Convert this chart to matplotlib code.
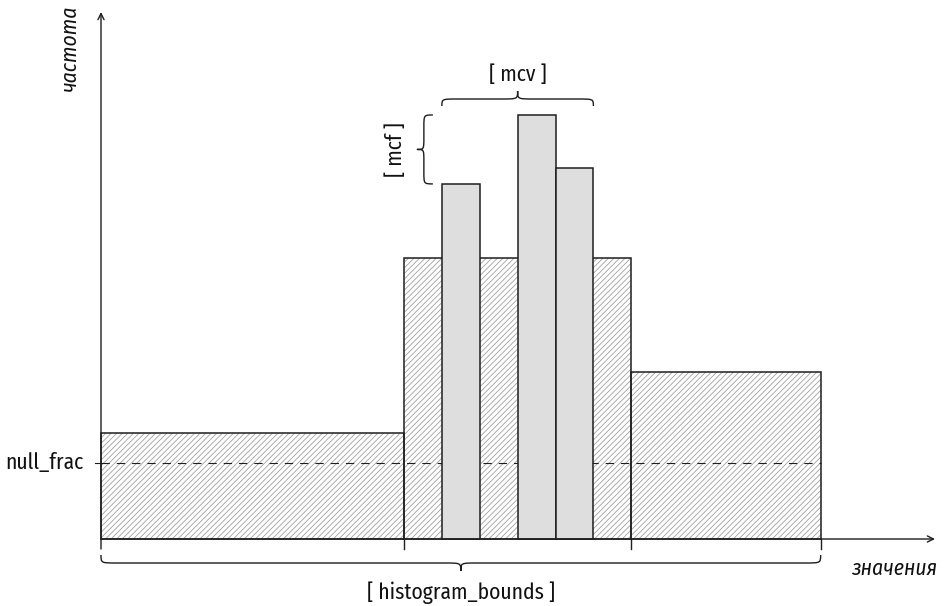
import matplotlib
matplotlib.use("Agg")
import matplotlib.pyplot as plt
from matplotlib.path import Path
from matplotlib.patches import PathPatch
from matplotlib import font_manager

# ---- data ----
bin_edges = [0, 8, 14, 19]            # histogram bounds
bin_heights = [2.0, 5.3, 3.15]        # frequency of each histogram bin
mcv_left = [9, 11, 12]                # most common values (left edge)
mcv_width = 1.0
mcv_freq = [6.7, 8.0, 7.0]            # most common frequencies
null_frac = 1.43

x_label = "значения"
y_label = "частота"
null_label = "null_frac"
hist_label = "[ histogram_bounds ]"
mcv_label = "[ mcv ]"
mcf_label = "[ mcf ]"

# ---- font: prefer a condensed sans ----
names = {f.name for f in font_manager.fontManager.ttflist}
fam = 'DejaVu Sans'
for cand in ["Fira Sans Condensed", "Roboto Condensed", "Open Sans Condensed",
             "Liberation Sans Narrow", "Roboto", "Open Sans"]:
    if cand in names:
        fam = cand
        break
plt.rcParams['font.family'] = [fam, 'DejaVu Sans']
plt.rcParams['hatch.linewidth'] = 0.6
plt.rcParams['lines.scale_dashes'] = False
FS = 15.5

W, H = 949, 606
fig = plt.figure(figsize=(W / 100, H / 100), dpi=100)
ax = fig.add_axes([0, 0, 1, 1])
ax.axis('off')

px_x = 37.875   # pixels per x unit
px_y = 53.0     # pixels per y unit
x0, y0 = 101, 539
ax.set_xlim(-x0 / px_x, (W - x0) / px_x)
ax.set_ylim(-(H - y0) / px_y, y0 / px_y)

def sx(p):  # pixel offset -> x units
    return p / px_x

def sy(p):
    return p / px_y

ink = "#1e1e1e"
txt = "#111111"

# histogram bins
for i, h in enumerate(bin_heights):
    l, r = bin_edges[i], bin_edges[i + 1]
    ax.bar(l, h, width=r - l, align='edge', facecolor='white', edgecolor='#a0a0a0',
           linewidth=0, hatch='//////', zorder=1)
    ax.bar(l, h, width=r - l, align='edge', facecolor='none', edgecolor=ink,
           linewidth=1.1, zorder=2)

# null_frac dashed line
ax.plot([bin_edges[0], bin_edges[-1]], [null_frac, null_frac], color=ink, lw=0.8,
        linestyle=(0, (6, 5)), zorder=3)
ax.plot([-sx(6), 0], [null_frac, null_frac], color=ink, lw=0.8, zorder=3)
ax.text(-sx(17), null_frac, null_label, ha='right', va='center', fontsize=FS, color=txt)

# mcv bars
ax.bar(mcv_left, mcv_freq, width=mcv_width, align='edge', facecolor='#dedede',
       edgecolor=ink, linewidth=1.1, zorder=4)

# axes arrows
ax.annotate('', xy=(sx(935 - x0), 0), xytext=(0, 0),
            arrowprops=dict(arrowstyle='->', color=ink, lw=1.0, mutation_scale=11,
                            shrinkA=0, shrinkB=0), zorder=6)
ax.annotate('', xy=(0, sy(y0 - 12)), xytext=(0, -sy(10)),
            arrowprops=dict(arrowstyle='->', color=ink, lw=1.0, mutation_scale=11,
                            shrinkA=0, shrinkB=0), zorder=6)
for e in bin_edges[1:]:
    ax.plot([e, e], [0, -sy(10)], color=ink, lw=1.0, zorder=6)

ax.text(sx(937 - x0), -sy(30), x_label, ha='right', va='center', fontsize=FS,
        style='italic', color=txt)
ax.text(-sx(31), sy(y0 - 48), y_label, ha='center', va='center', fontsize=FS,
        style='italic', rotation=90, color=txt)

# braces
def hbrace(xa, xb, y_end, y_mid, y_tip, rpx=16):
    xm = (xa + xb) / 2
    r = min(sx(rpx), (xb - xa) / 6)
    verts = [(xa, y_end), (xa, y_mid), (xa, y_mid), (xa + r, y_mid),
             (xm - r, y_mid), (xm, y_mid), (xm, y_mid), (xm, y_tip),
             (xm, y_mid), (xm, y_mid), (xm + r, y_mid),
             (xb - r, y_mid), (xb, y_mid), (xb, y_mid), (xb, y_end)]
    codes = [Path.MOVETO, Path.CURVE4, Path.CURVE4, Path.CURVE4,
             Path.LINETO, Path.CURVE4, Path.CURVE4, Path.CURVE4,
             Path.CURVE4, Path.CURVE4, Path.CURVE4,
             Path.LINETO, Path.CURVE4, Path.CURVE4, Path.CURVE4]
    ax.add_patch(PathPatch(Path(verts, codes), facecolor='none', edgecolor=ink, lw=1.0))

def vbrace(ya, yb, x_end, x_mid, x_tip, rpx=12):
    ym = (ya + yb) / 2
    r = min(sy(rpx), (yb - ya) / 5)
    verts = [(x_end, ya), (x_mid, ya), (x_mid, ya), (x_mid, ya + r),
             (x_mid, ym - r), (x_mid, ym), (x_mid, ym), (x_tip, ym),
             (x_mid, ym), (x_mid, ym), (x_mid, ym + r),
             (x_mid, yb - r), (x_mid, yb), (x_mid, yb), (x_end, yb)]
    codes = [Path.MOVETO, Path.CURVE4, Path.CURVE4, Path.CURVE4,
             Path.LINETO, Path.CURVE4, Path.CURVE4, Path.CURVE4,
             Path.CURVE4, Path.CURVE4, Path.CURVE4,
             Path.LINETO, Path.CURVE4, Path.CURVE4, Path.CURVE4]
    ax.add_patch(PathPatch(Path(verts, codes), facecolor='none', edgecolor=ink, lw=1.0))

# histogram bounds brace (below axis)
hbrace(bin_edges[0], bin_edges[-1], -sy(16), -sy(24), -sy(32))
ax.text((bin_edges[0] + bin_edges[-1]) / 2, -sy(54), hist_label, ha='center',
        va='center', fontsize=FS, color=txt)

# mcv brace (above)
mcv_lo, mcv_hi = min(mcv_left), max(mcv_left) + mcv_width
top = max(mcv_freq)
hbrace(mcv_lo, mcv_hi, top + sy(9), top + sy(16), top + sy(24))
ax.text((mcv_lo + mcv_hi) / 2, top + sy(40), mcv_label, ha='center', va='center',
        fontsize=FS, color=txt)

# mcf brace (left)
f_lo, f_hi = mcv_freq[0], max(mcv_freq)
vbrace(f_lo, f_hi, mcv_lo - sx(9), mcv_lo - sx(18), mcv_lo - sx(25))
ax.text(mcv_lo - sx(46), (f_lo + f_hi) / 2, mcf_label, ha='center', va='center',
        rotation=90, fontsize=FS, color=txt)

fig.savefig('out.png', dpi=100)
